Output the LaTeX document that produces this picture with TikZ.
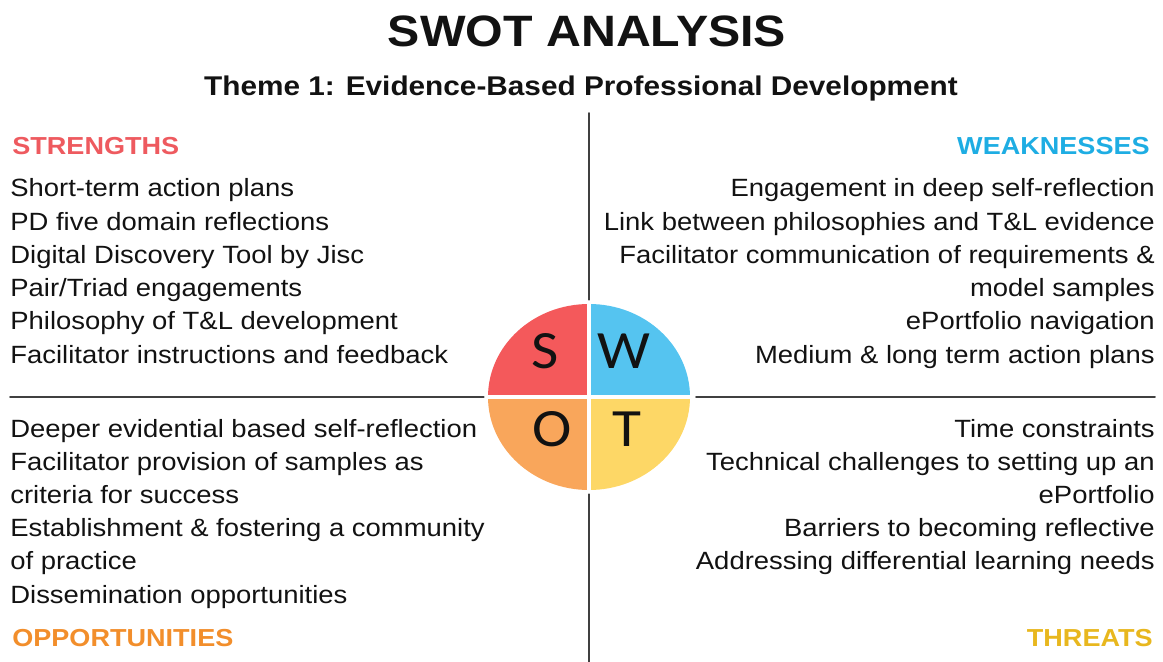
\documentclass[tikz,border=0pt]{standalone}
\usepackage{fontspec}
\setmainfont{Liberation Sans}[FakeStretch=1.1]
\newfontfamily\letterfont{Carlito}[FakeStretch=1.1]
\definecolor{sred}{HTML}{F4595B}
\definecolor{wblue}{HTML}{55C4F0}
\definecolor{oorange}{HTML}{F9A65B}
\definecolor{tyellow}{HTML}{FDD766}
\definecolor{hred}{HTML}{EE5A5F}
\definecolor{hblue}{HTML}{1EADE3}
\definecolor{horange}{HTML}{F28E2B}
\definecolor{hyellow}{HTML}{E8B71E}
\definecolor{axisgray}{HTML}{404040}
\begin{document}
\begin{tikzpicture}[x=0.02cm, y=-0.02cm, line join=round, line cap=round]
\tikzset{every node/.style={inner sep=0pt, text=black!93},
  txt/.style={font=\fontsize{14.2}{18}\selectfont},
  head/.style={font=\fontsize{14}{18}\selectfont\bfseries},
  letter/.style={font=\letterfont\fontsize{30.7}{36}\selectfont},
  axis/.style={axisgray, line width=1.1pt}}
\def\rx{101}\def\ry{93}\def\dy{33.2}
\useasboundingbox (0,0) rectangle (1163,662);
% title
\node[anchor=base, font=\fontsize{25}{30}\selectfont\bfseries] (title) at (587,47) {SWOT ANALYSIS};
\node[anchor=base, font=\fontsize{15.4}{18}\selectfont\bfseries] (theme) at (581,96) {Theme 1: Evidence-Based Professional Development};
% axes
\coordinate (c) at (589,397);
\coordinate (vt) at (589,113);\coordinate (vct) at (589,300);
\coordinate (vcb) at (589,494);\coordinate (vb) at (589,662);
\coordinate (hl) at (10,397);\coordinate (hcl) at (484,397);
\coordinate (hcr) at (696,397);\coordinate (hr) at (1155,397);
\draw[axis] (vt)--(vct) (vcb)--(vb) (hl)--(hcl) (hcr)--(hr);
% circle
\foreach \col/\a in {sred/180, wblue/270, tyellow/0, oorange/90}
  \fill[\col] (c) -- ++({\rx*cos(\a)},{\ry*sin(\a)}) arc[start angle=\a, delta angle=90, x radius=\rx, y radius=\ry] -- cycle;
\draw[white, line width=1.8pt] (c) ++(-\rx-2,0) -- ++(2*\rx+4,0);
\draw[white, line width=1.8pt] (c) ++(0,-\ry-2) -- ++(0,2*\ry+4);
\node[letter] (S) at (545,351) {S};
\node[letter] (W) at (624,351) {W};
\node[letter] (O) at (552,429) {O};
\node[letter] (T) at (627,429) {T};
% headings
\node[head, text=hred, anchor=base west] (strengths) at (12,155) {STRENGTHS};
\node[head, text=hblue, anchor=base east] (weaknesses) at (1150,155) {WEAKNESSES};
\node[head, text=horange, anchor=base west] (opportunities) at (12,646) {OPPORTUNITIES};
\node[head, text=hyellow, anchor=base east] (threats) at (1153,646) {THREATS};
% lists
\foreach \t [count=\i] in {Short-term action plans, PD five domain reflections, Digital Discovery Tool by Jisc, Pair/Triad engagements, Philosophy of T\&L development, Facilitator instructions and feedback}
  \node[txt, anchor=base west] (s\i) at (10,{197+\dy*(\i-1)}) {\t};
\foreach \t [count=\i] in {Engagement in deep self-reflection, Link between philosophies and T\&L evidence, Facilitator communication of requirements \&, model samples, ePortfolio navigation, Medium \& long term action plans}
  \node[txt, anchor=base east] (w\i) at (1155,{197+\dy*(\i-1)}) {\t};
\foreach \t [count=\i] in {Deeper evidential based self-reflection, Facilitator provision of samples as, criteria for success, Establishment \& fostering a community, of practice, Dissemination opportunities}
  \node[txt, anchor=base west] (o\i) at (10,{437+\dy*(\i-1)}) {\t};
\foreach \t [count=\i] in {Time constraints, Technical challenges to setting up an, ePortfolio, Barriers to becoming reflective, Addressing differential learning needs}
  \node[txt, anchor=base east] (t\i) at (1155,{437+\dy*(\i-1)}) {\t};
\end{tikzpicture}
\end{document}
